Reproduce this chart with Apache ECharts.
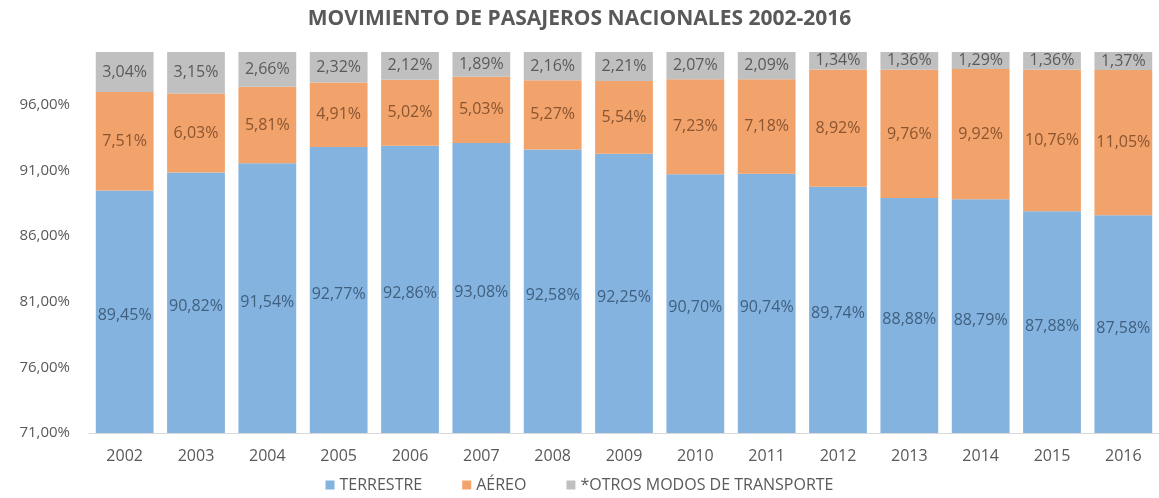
<!DOCTYPE html>
<html>
<head>
<meta charset="utf-8">
<script src="https://cdn.jsdelivr.net/npm/echarts@6/dist/echarts.min.js"></script>
<style>html,body{margin:0;padding:0;background:#fff}#c{width:1159px;height:498px}</style>
</head>
<body>
<div id="c"></div>
<script>
const categories = ['2002','2003','2004','2005','2006','2007','2008','2009','2010','2011','2012','2013','2014','2015','2016'];
const terrestre = [89.45,90.82,91.54,92.77,92.86,93.08,92.58,92.25,90.70,90.74,89.74,88.88,88.79,87.88,87.58];
const aereo = [7.51,6.03,5.81,4.91,5.02,5.03,5.27,5.54,7.23,7.18,8.92,9.76,9.92,10.76,11.05];
const otros = [3.04,3.15,2.66,2.32,2.12,1.89,2.16,2.21,2.07,2.09,1.34,1.36,1.29,1.36,1.37];
const seriesNames = ['TERRESTRE','AÉREO','*OTROS MODOS DE TRANSPORTE'];
const titleText = 'MOVIMIENTO DE PASAJEROS NACIONALES 2002-2016';

const fmt = v => v.toFixed(2).replace('.', ',') + '%';
const font = '"Open Sans", "Noto Sans", sans-serif';

const chart = echarts.init(document.getElementById('c'));
chart.setOption({
  animation: false,
  title: {
    text: titleText, left: 'center', top: 4,
    textStyle: {fontFamily: font, fontSize: 21, fontWeight: 'bold', color: '#595959'}
  },
  legend: {
    top: 472, left: 'center', itemWidth: 9, itemHeight: 9, itemGap: 40, icon: 'rect',
    textStyle: {fontFamily: font, fontSize: 16, color: '#595959'},
    data: seriesNames
  },
  grid: {left: 89, top: 52, width: 1072, height: 381},
  xAxis: {
    type: 'category', data: categories,
    axisLine: {lineStyle: {color: '#d9d9d9'}},
    axisTick: {show: false},
    axisLabel: {fontFamily: font, fontSize: 16, color: '#595959', margin: 15}
  },
  yAxis: {
    type: 'value', min: 71, max: 100, interval: 5,
    splitLine: {show: false},
    axisLine: {show: false}, axisTick: {show: false},
    axisLabel: {fontFamily: font, fontSize: 15, color: '#595959', margin: 19, showMaxLabel: false,
      formatter: v => v.toFixed(2).replace('.', ',') + '%'}
  },
  series: [
    {name: seriesNames[0], type: 'bar', stack: 't', data: terrestre, barCategoryGap: '19%',
      itemStyle: {color: '#84b3df'},
      label: {show: true, position: 'inside', offset: [0, 4], formatter: p => fmt(p.value),
        fontFamily: font, fontSize: 16, color: '#40607f'}},
    {name: seriesNames[1], type: 'bar', stack: 't', data: aereo,
      itemStyle: {color: '#f2a26b'},
      label: {show: true, position: 'inside', formatter: p => fmt(p.value),
        fontFamily: font, fontSize: 16, color: '#8a5530'}},
    {name: seriesNames[2], type: 'bar', stack: 't', data: otros,
      itemStyle: {color: '#c0c0c0'},
      label: {show: true, position: 'inside', formatter: p => fmt(p.value),
        fontFamily: font, fontSize: 16, color: '#5a5a5a'}}
  ]
});
</script>
</body>
</html>
